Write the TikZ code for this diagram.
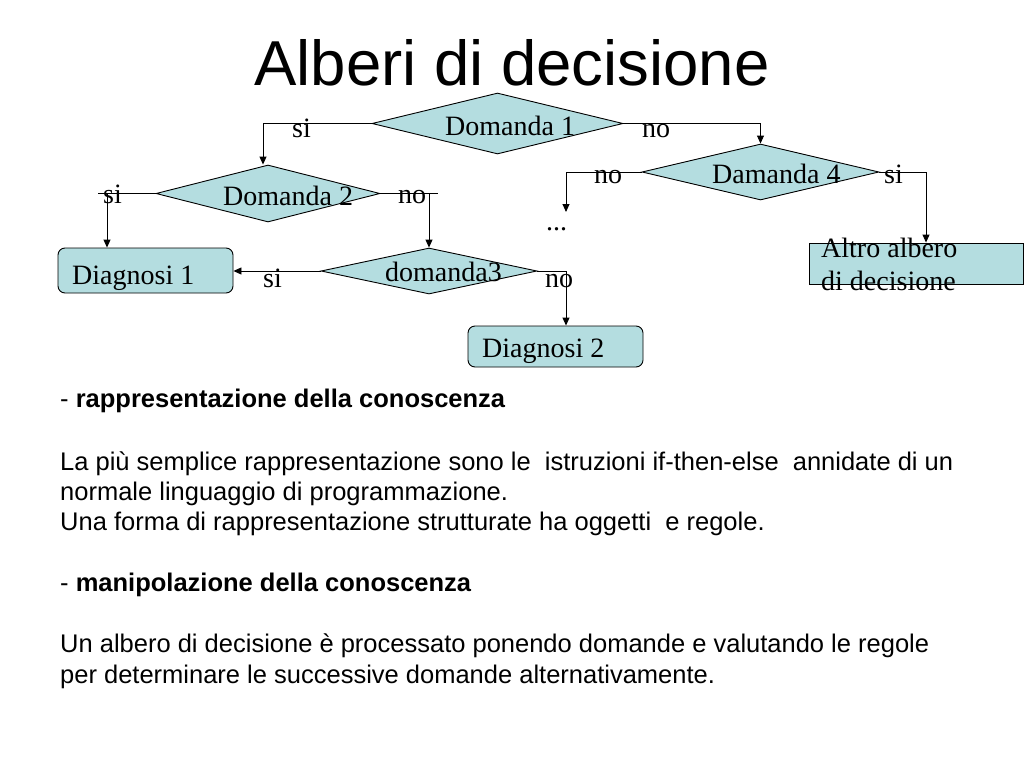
\documentclass[tikz,border=0pt]{standalone}
\usepackage{fontspec}
\setmainfont{Liberation Serif}
\setsansfont{Liberation Sans}
\usetikzlibrary{shapes.geometric,arrows.meta}
\definecolor{boxfill}{RGB}{180,221,224}
\begin{document}
\begin{tikzpicture}[x=1pt,y=-1pt,
  dia/.style={diamond,draw=black,fill=boxfill,inner sep=0pt,line width=0.9pt},
  rbox/.style={draw=black,fill=boxfill,rounded corners=7pt,inner sep=0pt,line width=0.9pt},
  sbox/.style={draw=black,fill=boxfill,inner sep=0pt,line width=0.9pt},
  dtxt/.style={anchor=base west,inner sep=0pt,font=\fontsize{28}{30}\selectfont},
  conn/.style={line width=0.9pt},
  arr/.style={conn,-{Triangle[length=8pt,width=7pt]}},
  body/.style={anchor=base west,inner sep=0pt,font=\sffamily\fontsize{25.5}{30}\selectfont}]
\useasboundingbox (0,0) rectangle (1024,768);
\fill[white] (0,0) rectangle (1024,768);

% title
\node[anchor=base,inner sep=0pt,font=\sffamily\fontsize{63.5}{70}\selectfont] (title) at (512,85) {Alberi di decisione};

% shapes
\node[dia,minimum width=251pt,minimum height=61pt] (d1) at (497.5,123.5) {};
\node[dia,minimum width=224pt,minimum height=57pt] (d2) at (268,193.5) {};
\node[dia,minimum width=216pt,minimum height=46pt] (d3) at (429,271) {};
\node[dia,minimum width=237pt,minimum height=56pt] (d4) at (760.5,172) {};
\node[rbox,minimum width=175pt,minimum height=45pt] (g1) at (145.5,270.5) {};
\node[rbox,minimum width=175pt,minimum height=41pt] (g2) at (555.5,346.5) {};
\node[sbox,minimum width=214pt,minimum height=41pt] (alt) at (916,263.5) {};

% connectors
\coordinate (e2l) at (98,193.5);
\coordinate (v2l) at (107,193.5);
\coordinate (e2r) at (438,193.5);
\coordinate (e4l) at (566,212);
\draw[arr] (d1.west) -| ([xshift=-5pt]d2.north);
\draw[arr] (d1.east) -| (d4.north);
\draw[conn] (d2.west) -- (e2l);
\draw[arr] (v2l) -- (v2l |- g1.north);
\draw[conn] (d2.east) -- (e2r);
\draw[arr] (d3.north |- d2.east) -- (d3.north);
\draw[arr] (d3.west) -- (d3.west -| g1.east);
\draw[arr] (d3.east) -| ([xshift=10.5pt]g2.north);
\draw[arr] (d4.west) -| (e4l);
\draw[arr] (d4.east) -| ([xshift=10pt]alt.north);

% texts in shapes
\node[dtxt] (t1) at (445,135) {Domanda 1};
\node[dtxt] (t2) at (223,205) {Domanda 2};
\node[dtxt] (t3) at (385,281) {domanda3};
\node[dtxt] (t4) at (712,183) {Damanda 4};
\node[dtxt] (tg1) at (72,284) {Diagnosi 1};
\node[dtxt] (tg2) at (482,357) {Diagnosi 2};
\node[dtxt] (ta1) at (821,257) {Altro albero};
\node[dtxt] (ta2) at (821,290) {di decisione};

% branch labels
\node[dtxt] (l1) at (292,137) {si};
\node[dtxt] (l2) at (642,137) {no};
\node[dtxt] (l3) at (103,203) {si};
\node[dtxt] (l4) at (398,203) {no};
\node[dtxt] (l5) at (263,287) {si};
\node[dtxt] (l6) at (545,287) {no};
\node[dtxt] (l7) at (594,183) {no};
\node[dtxt] (l8) at (884,183) {si};
\node[dtxt] (dots) at (546,230) {...};

% body text
\node[body] (b1) at (60,407) {- \textbf{rappresentazione della conoscenza}};
\node[body] (b2) at (60,470) {La più semplice rappresentazione sono le\ \ istruzioni if-then-else\ \ annidate di un};
\node[body] (b3) at (60,500) {normale linguaggio di programmazione.};
\node[body] (b4) at (60,530.5) {Una forma di rappresentazione strutturate ha oggetti\ \ e regole.};
\node[body] (b5) at (60,591.5) {- \textbf{manipolazione della conoscenza}};
\node[body] (b6) at (60,652.5) {Un albero di decisione è processato ponendo domande e valutando le regole};
\node[body] (b7) at (60,683) {per determinare le successive domande alternativamente.};
\end{tikzpicture}
\end{document}
